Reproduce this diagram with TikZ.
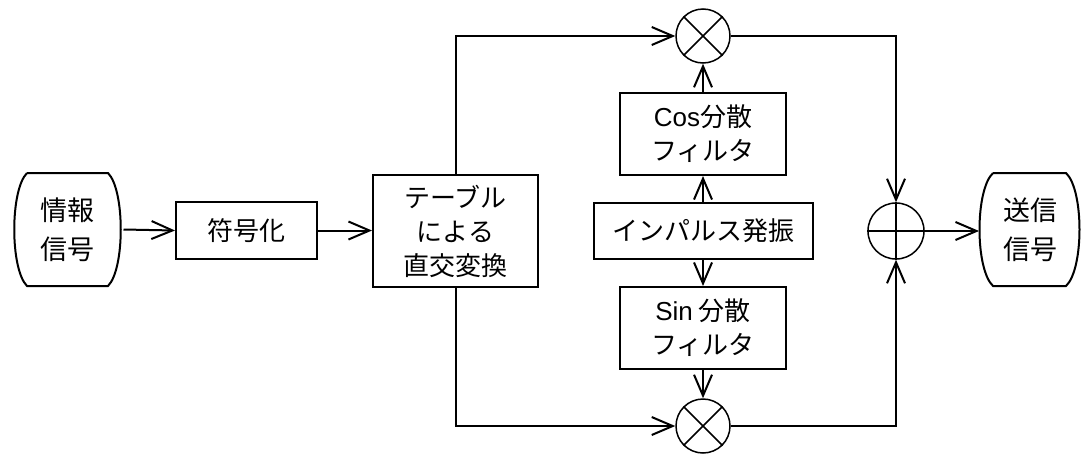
\documentclass[tikz,border=0pt]{standalone}
\usepackage{fontspec}
\newfontfamily\cjk{Noto Sans CJK JP}
\newfontfamily\lat{Liberation Sans}
\usetikzlibrary{arrows.meta}
\begin{document}
\begin{tikzpicture}[x=1pt,y=-1pt,line width=2pt,
  arr/.style={-{Straight Barb[length=21pt,width=18pt]}},
  box/.style={draw,inner sep=0pt,align=center,font=\cjk\fontsize{26}{34}\selectfont},
  term/.style={inner sep=0pt,align=center,font=\cjk\fontsize{27}{39}\selectfont},
  circ/.style={draw,circle,inner sep=0pt,line width=1.5pt}]
\useasboundingbox (0,0) rectangle (1082,453);
% terminals
\node[term,minimum width=110pt,minimum height=113pt] (info) at (67.5,229.5) {情報\\信号};
\draw (27,173) -- (108,173) .. controls (125,190) and (125,269) .. (108,286) -- (27,286) .. controls (10,269) and (10,190) .. (27,173);
\node[term,minimum width=100pt,minimum height=113pt] (out) at (1030,229.5) {送信\\信号};
\draw (993,173) -- (1066,173) .. controls (1084,190) and (1084,269) .. (1066,286) -- (993,286) .. controls (975,269) and (975,190) .. (993,173);
% boxes
\node[box,minimum width=141pt,minimum height=57pt] (enc) at (246.5,230.5) {符号化};
\node[box,minimum width=165pt,minimum height=112pt] (tab) at (455.5,231) {テーブル\\による\\直交変換};
\node[box,minimum width=166pt,minimum height=82pt] (cos) at (703,134) {{\lat Cos}分散\\フィルタ};
\node[box,minimum width=219pt,minimum height=56pt] (imp) at (703,231) {インパルス発振};
\node[box,minimum width=166pt,minimum height=82pt] (sin) at (703,328) {{\lat Sin} 分散\\フィルタ};
% circles
\node[circ,minimum size=54pt] (m1) at (703,36) {};
\draw[line width=1.5pt] (m1.45) -- (m1.225) (m1.135) -- (m1.315);
\node[circ,minimum size=54pt] (m2) at (703,426) {};
\draw[line width=1.5pt] (m2.45) -- (m2.225) (m2.135) -- (m2.315);
\node[circ,minimum size=56pt] (add) at (896,231) {};
\draw[line width=1.5pt] (add.north) -- (add.south) (add.west) -- (add.east);
% connectors
\draw[arr] (info.east) -- (enc.west);
\draw[arr] (enc.east) -- (tab.west |- enc.east);
\draw[arr] (tab.north) |- (m1.west);
\draw[arr] (tab.south) |- (m2.west);
\draw[arr] (cos.north) -- (m1.south);
\draw[arr] (imp.north) -- (cos.south);
\draw[arr] (imp.south) -- (sin.north);
\draw[arr] (sin.south) -- (m2.north);
\draw[arr] (m1.east) -| (add.north);
\draw[arr] (m2.east) -| (add.south);
\draw[arr] (add.east) -- (out.west |- add.east);
\end{tikzpicture}
\end{document}
